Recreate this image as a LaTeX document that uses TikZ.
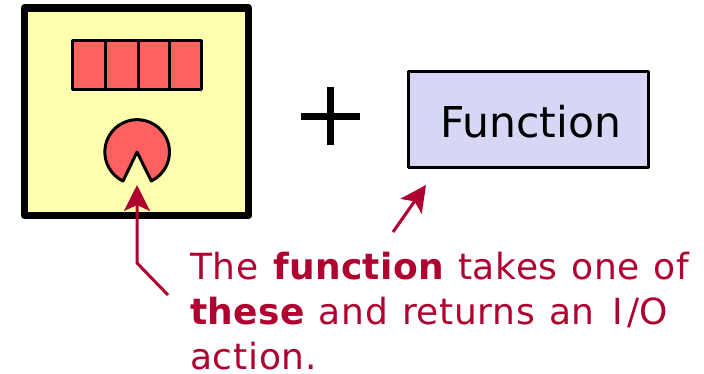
\documentclass[tikz,border=0pt]{standalone}
\usepackage{fontspec}
\setmainfont{DejaVu Sans}
\newfontfamily\remarkfont[WordSpace=1.14,LetterSpace=2,BoldFeatures={LetterSpace=1}]{DejaVu Sans}
\usetikzlibrary{arrows.meta}
\definecolor{crim}{HTML}{B00030}
\definecolor{paleyellow}{HTML}{FFFFB0}
\definecolor{redfill}{HTML}{FF6060}
\definecolor{lav}{HTML}{D6D6F5}
\tikzset{
  outerbox/.style={draw=black,line width=7.5pt,fill=paleyellow,line join=round},
  cellbox/.style={draw=black,line width=3pt,fill=redfill,line join=round},
  funcbox/.style={draw=black,line width=3pt,fill=lav,line join=round,minimum width=240.5pt,minimum height=96pt,inner sep=0pt,text=black},
  functext/.style={font=\fontsize{42.5}{50}\selectfont,text=black,inner sep=0pt},
  pointer/.style={draw=crim,line width=3pt,-{Stealth[length=26pt,width=26pt,inset=6pt]}},
  remark/.style={text=crim,font=\remarkfont\fontsize{36}{45}\selectfont,align=left,inner sep=0pt,anchor=north west}
}
\begin{document}
\begin{tikzpicture}[x=1pt,y=-1pt]
\useasboundingbox (0,0) rectangle (704,373);
\draw[outerbox] (24.5,8) rectangle (248.5,215.5);
\draw[cellbox] (72,40) rectangle (201,89);
\draw[line width=3pt] (105,40) -- (105,89) (138,40) -- (138,89) (169,40) -- (169,89);
\draw[cellbox] (137,152) -- (123,181) arc[start angle=-116,end angle=-424,radius=-32.3pt,x radius=32.3pt,y radius=32.3pt] -- cycle;
\draw[line width=7pt] (301,116) -- (360,116) (330,87) -- (330,145);
\node[funcbox] (func) at (528.25,119) {};
\node[functext,anchor=base] (ftxt) at (530.5,137) {Function};
\node[remark] (txt) at (190,251.6) {The \textbf{function} takes one of\\\textbf{these} and returns an \kern4pt I\kern4pt/O\\action.};
\coordinate (a0) at (168,295);
\coordinate (a1) at (137,263);
\coordinate (a2) at (137,185);
\coordinate (b0) at (393,232);
\coordinate (b1) at (426,185);
\draw[pointer,line join=round] (a0) -- (a1) -- (a2);
\draw[pointer] (b0) -- (b1);
\end{tikzpicture}
\end{document}
